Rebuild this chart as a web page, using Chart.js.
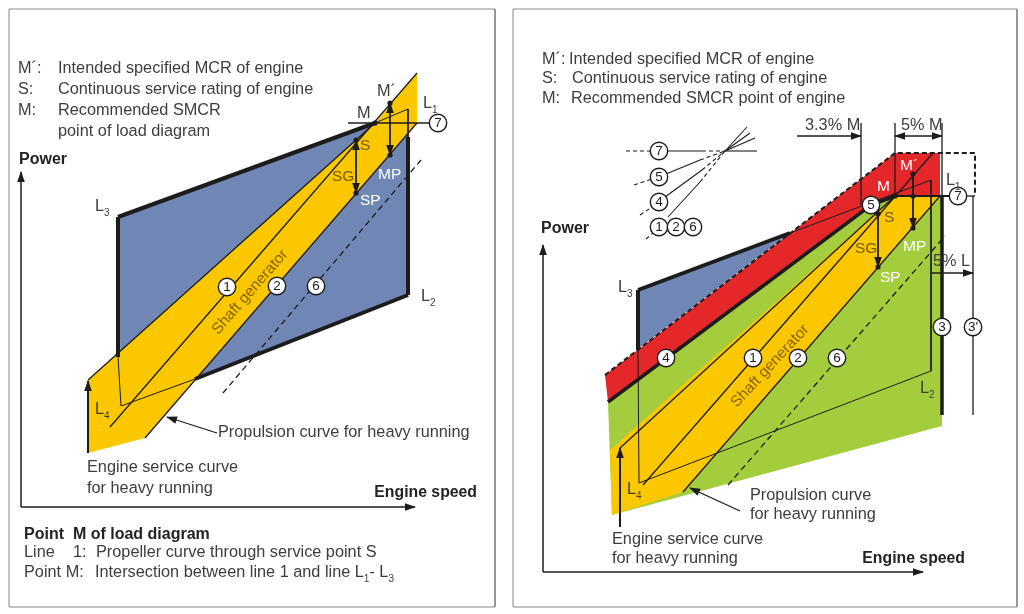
<!DOCTYPE html>
<html>
<head>
<meta charset="utf-8">
<script src="https://cdn.jsdelivr.net/npm/chart.js@4/dist/chart.umd.min.js"></script>
<style>
  html, body { margin: 0; padding: 0; background: #fff; }
  #wrap { width: 1024px; height: 614px; }
</style>
</head>
<body>
<div id="wrap"><canvas id="loadChart" width="1024" height="614"></canvas></div>
<script>
// x = engine speed, y = power, in drawing units (y axis reversed, like the sketch)

// ---- left sketch ----
const leftLoadArea   = [[118,217],[375,123],[408,110],[408,295],[195,379],[121,400]];
const leftShaftBand  = [[88,380],[375,123],[417,73],[417,123],[145,438],[88,453]];
const leftL3L1       = [[118,217],[375,123]];
const leftL3L4       = [[118,217],[118,357]];
const leftL4L2       = [[195,379],[408,295]];
const leftL1L2       = [[408,137],[408,295]];
const leftOldLow     = [[118,357],[121,406],[195,379]];
const leftOldTop     = [[375,123],[408,109],[408,137]];
const leftService    = [[88,380],[375,123]];
const leftLine1      = [[110,427],[417,73]];
const leftLine2      = [[145,438],[417,123]];
const leftLine6      = [[223,393],[421,160]];
const leftLine7      = [[348,123],[430,123]];
const leftMtoMP      = [[390,103],[390,155]];
const leftStoSP      = [[356,140],[356,193]];
const leftL4Arrow    = [[88,453],[88,381]];
const leftPropArrow  = [[217,433],[167,417]];
const leftPowerAxis  = [[21,507],[21,172]];
const leftSpeedAxis  = [[21,507],[415,507]];
const leftPoints     = [[375,123],[390,103],[390,155],[356,140],[356,193]];
const leftRings      = [[227,287],[277,286],[316,286],[438,123]];
const leftRingText   = ['1','2','6','7'];

// ---- right sketch ----
const rightGreenArea = [[608,402],[871,205],[895,196],[942,196],[942,426],[612,515]];
const rightRedArea   = [[605,375],[895,153],[940,153],[940,196],[895,196],[871,205],[608,402]];
const rightBlueArea  = [[638,290],[790,233],[638,349]];
const rightShaftBand = [[610,450],[895,196],[940,196],[683,492],[612,515]];
const rightL3L1      = [[638,290],[790,233]];
const rightL3L4      = [[638,290],[638,350]];
const rightLine4     = [[608,402],[871,205],[895,196]];
const rightL1L2      = [[942,196],[942,415]];
const rightLine7     = [[895,196],[950,196]];
const rightLine7End  = [[966,196],[975,196]];
const rightOldArea   = [[790,233],[931,180],[931,371],[639,483],[638,350]];
const rightLimit     = [[605,375],[895,153],[975,153],[975,196]];
const rightLine1     = [[643,485],[933,153]];
const rightService   = [[620,448],[895,196]];
const rightLine2     = [[683,492],[940,196]];
const rightLine6     = [[728,485],[945,236]];
const rightTick33    = [[861,123],[861,205]];
const rightTickM     = [[895,123],[895,196]];
const rightTickL1    = [[942,123],[942,196]];
const rightDim33     = [[797,136],[861,136]];
const rightDim5M     = [[895,136],[942,136]];
const rightDim5L     = [[932,273],[973,273]];
const rightLine3b    = [[973,196],[973,415]];
const rightStoSP     = [[878,214],[878,267]];
const rightMtoMP     = [[913,174],[913,228]];
const rightL4Arrow   = [[620,527],[620,448]];
const rightPropArrow = [[740,511],[690,488]];
const rightPowerAxis = [[543,572],[543,245]];
const rightSpeedAxis = [[543,572],[923,572]];
const rightPoints    = [[895,196],[913,174],[913,196],[913,228],[878,214],[878,267]];
const rightRings     = [[871,205],[958,196],[942,327],[973,327],[666,358],[753,358],[798,358],[837,358],
                        [659,151],[659,177],[659,202],[659,227],[676,227],[693,227]];
const rightRingText  = ['5','7','3',"3'",'4','1','2','6','7','5','4','1','2','6'];
// small key of line styles
const keySolid  = [[[667,151],[702,151]],[[725,151],[757,151]],[[666,174],[700,160]],[[725,151],[755,138]],
                   [[665,197],[702,170]],[[725,151],[750,133]],[[668,217],[700,182]],[[725,151],[747,127]]];
const keyDashed = [[[626,151],[651,151]],[[702,151],[725,151]],[[634,185],[652,179]],[[700,160],[725,151]],
                   [[640,215],[652,207]],[[702,170],[725,151]],[[646,239],[653,233]],[[700,182],[725,151]]];

const panelFrames = [[[9,9],[495,9],[495,607],[9,607],[9,9]], [[513,9],[1017,9],[1017,607],[513,607],[513,9]]];

// texts: [x, y, text, style, angle]   ("_" marks a subscript character)
const notes = [
  [18,69,'M´:','note'], [58,69,'Intended specified MCR of engine','note'],
  [18,90,'S:','note'],  [58,90,'Continuous service rating of engine','note'],
  [18,111,'M:','note'], [58,111,'Recommended SMCR','note'],
  [58,132,'point of load diagram','note'],
  [19,160,'Power','bold'],
  [95,207,'L_3','note'], [377,92,'M´','note'], [357,114,'M','note'], [423,104,'L_1','note'],
  [360,146,'S','brown'], [332,177,'SG','brown'], [378,175,'MP','white'], [360,201,'SP','white'],
  [421,297,'L_2','note'], [95,410,'L_4','note'],
  [250,292,'Shaft generator','band',-49],
  [218,433,'Propulsion curve for heavy running','note'],
  [87,468,'Engine service curve','note'], [87,489,'for heavy running','note'],
  [477,493,'Engine speed','boldR'],
  [24,535,'Point  M of load diagram','bold'],
  [24,553,'Line','note'], [73,553,'1:','note'], [96,553,'Propeller curve through service point S','note'],
  [24,573,'Point M:','note'], [95,573,'Intersection between line 1 and line L_1- L_3','note'],

  [542,60,'M´:','note'], [569,60,'Intended specified MCR of engine','note'],
  [542,79,'S:','note'],  [572,79,'Continuous service rating of engine','note'],
  [542,99,'M:','note'],  [571,99,'Recommended SMCR point of engine','note'],
  [805,126,'3.3% M','note'], [901,126,'5% M','note'],
  [541,229,'Power','bold'],
  [618,288,'L_3','note'], [900,166,'M´','white'], [877,187,'M','white'], [946,181,'L_1','note'],
  [884,218,'S','brown'], [855,249,'SG','brown'], [903,247,'MP','white'], [880,278,'SP','white'],
  [933,262,'5% L','note'], [920,389,'L_2','note'], [627,490,'L_4','note'],
  [770,366,'Shaft generator','band',-47],
  [750,496,'Propulsion curve','note'], [750,515,'for heavy running','note'],
  [612,540,'Engine service curve','note'], [612,559,'for heavy running','note'],
  [965,559,'Engine speed','boldR']
];

const FONT = "'Liberation Sans', Arial, sans-serif";
const textStyles = {
  note:  {size: 16.3, weight: '400', color: '#3d3d3d', align: 'left'},
  bold:  {size: 16, weight: '700', color: '#222', align: 'left'},
  boldR: {size: 15.8, weight: '700', color: '#222', align: 'right'},
  white: {size: 15.5, weight: '400', color: '#ffffff', align: 'left'},
  brown: {size: 15.5, weight: '400', color: '#7a5a00', align: 'left'},
  band:  {size: 15.5, weight: '400', color: '#8a6400', align: 'center'}
};

const xy = arr => arr.map(([x, y]) => ({x, y}));
const layers = [];
function area(points, color) {
  layers.push({data: xy(points), showLine: false, pointRadius: 0, areaColor: color});
}
function line(points, width, extra) {
  layers.push(Object.assign({data: xy(points), showLine: true, borderColor: '#1c1c1c', borderWidth: width,
    pointRadius: 0, borderJoinStyle: 'miter', fill: false}, extra || {}));
}
function dots(points) {
  layers.push({data: xy(points), showLine: false, pointRadius: 2.6, pointBackgroundColor: '#1c1c1c',
    pointBorderWidth: 0});
}
function rings(points, texts) {
  layers.push({data: xy(points), showLine: false, pointRadius: 8.7, pointBackgroundColor: '#fff',
    pointBorderColor: '#1c1c1c', pointBorderWidth: 1.4, ringText: texts});
}

// frames
panelFrames.forEach(f => line(f, 1, {borderColor: '#8a8a8a'}));

// left
area(leftLoadArea, '#7087b5');
area(leftShaftBand, '#fbc800');
[leftOldLow, leftOldTop].forEach(p => line(p, 1));
[leftService, leftLine1, leftLine2].forEach(p => line(p, 1.3));
line(leftLine6, 1.3, {borderDash: [6, 4]});
[leftL3L1, leftL3L4, leftL4L2, leftL1L2].forEach(p => line(p, 4));
line(leftLine7, 1.4);
line(leftMtoMP, 1.8, {arrowEnd: true, arrowStart: true});
line(leftStoSP, 1.8, {arrowEnd: true, arrowStart: true});
line(leftL4Arrow, 2, {arrowEnd: true});
line(leftPropArrow, 1.3, {arrowEnd: true});
line(leftPowerAxis, 1.5, {arrowEnd: true});
line(leftSpeedAxis, 1.5, {arrowEnd: true});
dots(leftPoints);
rings(leftRings, leftRingText);

// right
area(rightGreenArea, '#a3cd3c');
area(rightRedArea, '#e4282a');
area(rightBlueArea, '#7087b5');
area(rightShaftBand, '#fbc800');
line(rightOldArea, 1);
[rightLine1, rightService, rightLine2].forEach(p => line(p, 1.3));
line(rightLine6, 1.3, {borderDash: [6, 4]});
line(rightLimit, 2, {borderDash: [5, 3]});
[rightL3L1, rightL3L4].forEach(p => line(p, 4));
line(rightLine4, 3.5);
line(rightL1L2, 3.5);
line(rightLine7, 2);
line(rightLine7End, 1.3);
[rightTick33, rightTickM, rightTickL1, rightLine3b].forEach(p => line(p, 1.3));
line(rightDim33, 1.3, {arrowEnd: true});
line(rightDim5M, 1.3, {arrowEnd: true, arrowStart: true});
line(rightDim5L, 1.3, {arrowEnd: true});
line(rightStoSP, 1.8, {arrowEnd: true});
line(rightMtoMP, 1.8, {arrowEnd: true});
line(rightL4Arrow, 2, {arrowEnd: true});
line(rightPropArrow, 1.3, {arrowEnd: true});
line(rightPowerAxis, 1.5, {arrowEnd: true});
line(rightSpeedAxis, 1.5, {arrowEnd: true});
keySolid.forEach(p => line(p, 1.1));
keyDashed.forEach(p => line(p, 1.1, {borderDash: [4, 3]}));
dots(rightPoints);
rings(rightRings, rightRingText);

const datasets = layers.map((d, i) => Object.assign({clip: false, order: layers.length - i}, d));

function arrowHead(ctx, from, to, color, size) {
  const a = Math.atan2(to.y - from.y, to.x - from.x);
  ctx.save();
  ctx.translate(to.x, to.y);
  ctx.rotate(a);
  ctx.beginPath();
  ctx.moveTo(1, 0);
  ctx.lineTo(-size, -size * 0.38);
  ctx.lineTo(-size, size * 0.38);
  ctx.closePath();
  ctx.fillStyle = color;
  ctx.fill();
  ctx.restore();
}

function drawNote(ctx, xs, ys, note) {
  const [x, y, text, kind, angle] = note;
  const st = textStyles[kind];
  const main = `${st.weight} ${st.size}px ${FONT}`;
  const small = `${st.weight} ${Math.round(st.size * 0.62)}px ${FONT}`;
  const parts = text.split(/_(.)/);
  ctx.save();
  ctx.translate(xs.getPixelForValue(x), ys.getPixelForValue(y));
  if (angle) ctx.rotate(angle * Math.PI / 180);
  ctx.fillStyle = st.color;
  ctx.textBaseline = 'middle';
  ctx.textAlign = 'left';
  let total = 0;
  parts.forEach((p, i) => { ctx.font = i % 2 ? small : main; total += ctx.measureText(p).width; });
  let cx = st.align === 'right' ? -total : st.align === 'center' ? -total / 2 : 0;
  parts.forEach((p, i) => {
    ctx.font = i % 2 ? small : main;
    ctx.fillText(p, cx, i % 2 ? st.size * 0.38 : 0);
    cx += ctx.measureText(p).width;
  });
  ctx.restore();
}

const sketchPlugin = {
  id: 'sketch',
  beforeDatasetDraw(chart, args) {
    const ds = chart.data.datasets[args.index];
    if (!ds.areaColor) return;
    const ctx = chart.ctx;
    ctx.save();
    ctx.beginPath();
    args.meta.data.forEach((p, i) => i ? ctx.lineTo(p.x, p.y) : ctx.moveTo(p.x, p.y));
    ctx.closePath();
    ctx.fillStyle = ds.areaColor;
    ctx.fill();
    ctx.restore();
  },
  afterDatasetDraw(chart, args) {
    const ds = chart.data.datasets[args.index];
    const pts = args.meta.data;
    const ctx = chart.ctx;
    if (ds.arrowEnd) arrowHead(ctx, pts[pts.length - 2], pts[pts.length - 1], ds.borderColor, 10);
    if (ds.arrowStart) arrowHead(ctx, pts[1], pts[0], ds.borderColor, 10);
    if (ds.ringText) {
      ctx.save();
      ctx.fillStyle = '#1c1c1c';
      ctx.font = `400 13.5px ${FONT}`;
      ctx.textAlign = 'center';
      ctx.textBaseline = 'middle';
      pts.forEach((p, i) => ctx.fillText(ds.ringText[i], p.x, p.y + 0.5));
      ctx.restore();
    }
  },
  afterDraw(chart) {
    const {ctx, scales} = chart;
    notes.forEach(n => drawNote(ctx, scales.x, scales.y, n));
  }
};

new Chart(document.getElementById('loadChart'), {
  type: 'scatter',
  data: {datasets},
  options: {
    responsive: false,
    animation: false,
    layout: {padding: 0, autoPadding: false},
    plugins: {legend: {display: false}, tooltip: {enabled: false}},
    events: [],
    scales: {
      x: {type: 'linear', min: 0, max: 1024, display: false},
      y: {type: 'linear', min: 0, max: 614, reverse: true, display: false}
    }
  },
  plugins: [sketchPlugin]
});
</script>
</body>
</html>
